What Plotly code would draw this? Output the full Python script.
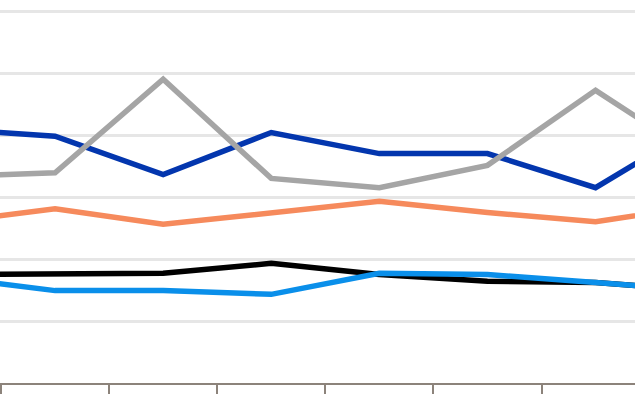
import plotly.graph_objects as go

# Categories (labels are not visible in the cropped view; first and last lie just outside the frame)
categories = ["C0", "C1", "C2", "C3", "C4", "C5", "C6", "C7"]

# Series values (gridline step = 10 units)
dark_blue = [41.0, 39.8, 33.6, 40.4, 37.0, 37.0, 31.5, 42.0]
gray = [33.3, 33.9, 49.0, 33.0, 31.5, 35.1, 47.2, 35.9]
orange = [25.9, 28.1, 25.6, 27.5, 29.3, 27.5, 26.0, 28.7]
black = [17.5, 17.5, 17.7, 19.3, 17.5, 16.4, 16.2, 14.9]
light_blue = [17.1, 14.9, 14.9, 14.3, 17.7, 17.5, 16.2, 14.9]

series = [
    ("Series A", dark_blue, "#0336AE"),
    ("Series B", gray, "#A5A5A5"),
    ("Series C", orange, "#F68A5C"),
    ("Series D", black, "#000000"),
    ("Series E", light_blue, "#0A8FEA"),
]

fig = go.Figure()
for name, vals, col in series:
    fig.add_trace(go.Scatter(
        x=categories, y=vals, mode="lines", name=name,
        line=dict(color=col, width=5.5),
        hoverinfo="skip",
    ))

W, H = 635, 397
fig.update_layout(
    width=W, height=H,
    margin=dict(l=0, r=0, t=0, b=14, pad=0),
    paper_bgcolor="white", plot_bgcolor="white",
    showlegend=False,
    xaxis=dict(
        type="category",
        range=[0.4907, 0.4907 + W / 108.1],
        showgrid=False, zeroline=False,
        showline=True, linecolor="#8C837B", linewidth=2,
        ticks="outside", tickson="boundaries", ticklen=9, tickwidth=2,
        tickcolor="#8C837B",
        showticklabels=False,
    ),
    yaxis=dict(
        range=[0, 383 / 6.2],
        dtick=10, tick0=0,
        showgrid=True, gridcolor="#E6E6E6", gridwidth=3,
        zeroline=False, showline=False, ticks="",
        showticklabels=False,
    ),
)

fig.write_html(
    "out.html",
    config={"displayModeBar": False},
    post_script="document.body.style.margin='0';document.body.style.overflow='hidden';",
)
